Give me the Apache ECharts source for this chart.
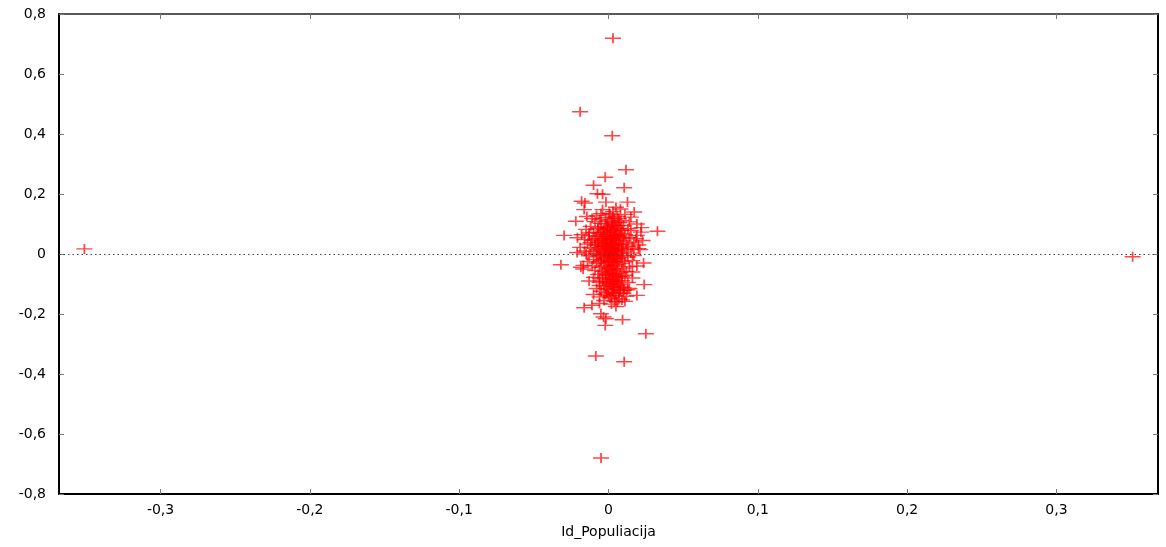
<!DOCTYPE html>
<html>
<head>
<meta charset="utf-8">
<script src="https://cdn.jsdelivr.net/npm/echarts@6/dist/echarts.min.js"></script>
<style>
  html, body { margin: 0; padding: 0; background: #fff; }
  #chart { width: 1166px; height: 547px; }
</style>
</head>
<body>
<div id="chart"></div>
<script>
// Axis ranges and tick positions
const xRange = [-0.368, 0.368];
const yRange = [-0.8, 0.8];
const xTicks = [-0.3, -0.2, -0.1, 0, 0.1, 0.2, 0.3];
const xName = 'Id_Populiacija';

// Isolated points away from the main cluster
const outerPoints = [
  [-0.351, 0.017], [0.351, -0.009],
  [0.003, 0.719], [-0.019, 0.474], [0.0025, 0.394],
  [0.025, -0.266], [-0.0085, -0.340], [0.0105, -0.359], [-0.005, -0.680]
];

// Fringe of the cluster
const fringePoints = [
  [0.0117, 0.281], [-0.0022, 0.256], [-0.010, 0.229], [0.0105, 0.221],
  [-0.0074, 0.201], [-0.004, 0.199], [-0.018, 0.176], [-0.0158, 0.170],
  [0.0127, 0.173], [-0.0017, 0.173], [-0.0163, 0.148], [0.0172, 0.140],
  [0.005, 0.156], [-0.0219, 0.109], [-0.0145, 0.125], [-0.0297, 0.062],
  [0.0328, 0.076], [-0.0208, 0.054], [0.015, 0.123], [0.0083, 0.112],
  [0.0217, 0.073], [0.0184, 0.051], [0.016, 0.023], [0.0228, 0.045],
  [-0.0051, 0.134], [0.0005, 0.136], [0.0027, 0.123],
  [0.022, 0.088], [0.019, 0.100], [0.014, 0.107], [0.021, 0.015],
  [-0.0319, -0.036], [-0.0185, -0.044], [-0.0168, -0.038], [0.0235, -0.030],
  [0.016, -0.060], [0.0239, -0.102], [0.0127, -0.119], [0.0105, -0.121],
  [0.019, -0.138], [-0.0163, -0.179], [-0.0111, -0.171], [-0.0051, -0.199],
  [-0.0017, -0.216], [-0.0033, -0.210], [0.0094, -0.219], [-0.0022, -0.238]
];

// Dense core of the cluster
const corePoints = [
  [-0.004, 0.148], [0.003, 0.142], [0.008, 0.150], [-0.008, 0.128], [0.001, 0.131],
  [0.006, 0.126], [-0.002, 0.121], [0.011, 0.132], [-0.011, 0.118], [0.004, 0.117],
  [-0.009, 0.108], [-0.005, 0.102], [0.000, 0.111], [0.003, 0.098], [0.007, 0.105],
  [0.010, 0.095], [-0.012, 0.092], [-0.007, 0.088], [-0.002, 0.093], [0.005, 0.087],
  [0.013, 0.084], [-0.015, 0.082], [0.002, 0.081], [0.009, 0.079], [-0.004, 0.077],
  [-0.010, 0.072], [-0.006, 0.068], [-0.001, 0.071], [0.003, 0.066], [0.006, 0.073],
  [0.011, 0.064], [-0.013, 0.061], [-0.008, 0.058], [-0.003, 0.060], [0.001, 0.055],
  [0.004, 0.059], [0.008, 0.052], [0.014, 0.056], [-0.016, 0.048], [-0.011, 0.046],
  [-0.005, 0.050], [0.000, 0.044], [0.002, 0.048], [0.006, 0.042], [0.010, 0.045],
  [0.017, 0.040], [-0.007, 0.040], [-0.002, 0.038],
  [-0.014, 0.033], [-0.009, 0.030], [-0.004, 0.034], [-0.001, 0.028], [0.002, 0.032],
  [0.005, 0.027], [0.009, 0.031], [0.013, 0.025], [-0.019, 0.022], [-0.012, 0.020],
  [-0.006, 0.022], [-0.002, 0.018], [0.001, 0.021], [0.004, 0.015], [0.007, 0.019],
  [0.012, 0.014], [0.020, 0.018], [-0.016, 0.010], [-0.010, 0.008], [-0.005, 0.011],
  [0.000, 0.006], [0.003, 0.009], [0.006, 0.004], [0.010, 0.007], [0.015, 0.003],
  [-0.008, 0.002], [-0.003, -0.001], [0.002, -0.003],
  [-0.013, -0.006], [-0.007, -0.009], [-0.001, -0.012], [0.004, -0.008], [0.008, -0.013],
  [0.013, -0.010], [-0.010, -0.018], [-0.005, -0.021], [0.000, -0.019], [0.003, -0.024],
  [0.007, -0.020], [0.011, -0.026], [-0.008, -0.030], [-0.003, -0.033], [0.001, -0.029],
  [0.005, -0.036], [0.009, -0.032], [-0.011, -0.040], [0.014, -0.042],
  [-0.006, -0.045], [-0.001, -0.048], [0.002, -0.043], [0.006, -0.051], [0.010, -0.047],
  [-0.009, -0.055], [-0.004, -0.058], [0.000, -0.062], [0.004, -0.056], [0.008, -0.063],
  [0.012, -0.058], [-0.007, -0.068], [-0.002, -0.072], [0.003, -0.069], [0.007, -0.076],
  [0.011, -0.071], [-0.010, -0.078],
  [-0.004, -0.083], [0.001, -0.086], [0.005, -0.081], [0.009, -0.089], [-0.006, -0.094],
  [-0.001, -0.097], [0.003, -0.092], [0.007, -0.101], [0.013, -0.095], [-0.003, -0.107],
  [0.002, -0.110], [0.006, -0.104], [0.010, -0.112], [-0.008, -0.115], [0.000, -0.118],
  [-0.005, -0.124], [0.003, -0.127], [0.008, -0.122], [-0.002, -0.134], [0.005, -0.138],
  [0.010, -0.131], [-0.006, -0.143], [0.001, -0.146], [0.007, -0.149], [0.012, -0.141],
  [-0.003, -0.155], [0.004, -0.158], [0.009, -0.153], [0.002, -0.167],
  [-0.003, 0.064], [0.001, 0.076], [0.005, 0.062], [-0.007, 0.084], [0.004, 0.104],
  [-0.001, 0.089], [0.008, 0.068], [-0.004, 0.026], [0.003, 0.037], [0.007, 0.033],
  [-0.008, 0.015], [0.000, 0.013], [0.005, 0.023], [0.009, 0.017], [-0.002, 0.003],
  [0.004, 0.000], [-0.006, -0.004], [0.001, -0.006], [0.006, -0.015], [-0.003, -0.014],
  [0.002, -0.037], [-0.005, -0.026], [0.004, -0.040], [0.000, -0.052], [-0.002, -0.064],
  [0.005, -0.066], [0.002, -0.078], [-0.004, -0.090], [0.004, -0.097], [0.001, -0.102],
  [0.006, -0.115], [-0.001, -0.129], [0.004, -0.133], [0.000, -0.139], [0.006, -0.160],
  [-0.002, 0.050], [0.002, 0.058], [-0.009, 0.052], [0.010, 0.055], [-0.012, 0.038],
  [0.012, 0.036], [-0.015, 0.000], [0.017, -0.005], [-0.014, -0.025], [0.016, -0.022],
  [-0.013, 0.070], [0.015, 0.078], [-0.018, 0.064], [0.019, 0.062], [0.020, 0.030],
  [-0.021, 0.005], [0.019, -0.040], [-0.017, -0.050], [0.016, -0.080], [-0.013, -0.090],
  [0.014, -0.115], [-0.010, -0.135], [0.011, -0.158], [-0.006, -0.165], [0.005, -0.175],
  [-0.001, 0.100], [0.002, 0.092], [-0.003, 0.082], [0.006, 0.094], [0.000, 0.084],
  [0.004, 0.078], [-0.005, 0.072], [0.001, 0.065], [0.007, 0.061], [-0.001, 0.058],
  [0.003, 0.052], [-0.004, 0.045], [0.005, 0.047], [-0.001, 0.040], [0.001, 0.035],
  [0.004, 0.030], [-0.002, 0.024], [0.002, 0.016], [0.006, 0.011], [-0.003, 0.008],
  [0.001, 0.001], [0.005, -0.004], [-0.001, -0.005], [0.003, -0.015], [0.000, -0.025],
  [0.006, -0.027], [-0.002, -0.040], [0.003, -0.050], [0.001, -0.057], [-0.001, -0.070],
  [0.005, -0.074], [0.003, -0.085], [0.000, -0.092], [0.006, -0.090], [0.002, -0.098],
  [0.004, -0.108], [-0.002, -0.115], [0.003, -0.120], [0.007, -0.130], [0.002, -0.140],
  [0.008, -0.110], [-0.006, -0.105], [0.009, -0.075], [-0.006, -0.080], [0.009, -0.005],
  [-0.007, 0.030], [0.008, 0.085], [-0.006, 0.115], [0.002, 0.108], [0.007, 0.118]
];

const allPoints = outerPoints.concat(fringePoints, corePoints);

// Gnuplot-style "+" marker built from two thin filled bars
const plusSymbol = 'path://M0,4.3H16V5.7H0Z M7.1,0H8.9V10H7.1Z';

const fmt = v => {
  if (Math.abs(v) < 1e-9) return '0';
  return (Math.round(v * 10) / 10).toFixed(1).replace('.', ',');
};

const labelFont = { fontFamily: 'DejaVu Sans', fontSize: 14, color: '#000' };
const tickStyle = { show: true, inside: true, length: 5, lineStyle: { color: '#777', width: 1 } };
const frameLine = { show: true, onZero: false, lineStyle: { color: '#000', width: 2 } };

const chart = echarts.init(document.getElementById('chart'), null, { renderer: 'canvas' });
chart.setOption({
  animation: false,
  backgroundColor: '#fff',
  grid: { left: 59, right: 8, top: 14, bottom: 53, containLabel: false },
  xAxis: [
    {
      type: 'value', position: 'bottom', min: xRange[0], max: xRange[1],
      axisLine: frameLine,
      axisTick: Object.assign({ customValues: xTicks }, tickStyle),
      axisLabel: Object.assign({ customValues: xTicks, margin: 9, formatter: fmt }, labelFont),
      splitLine: { show: false },
      name: xName, nameLocation: 'middle', nameGap: 31,
      nameTextStyle: labelFont
    },
    {
      type: 'value', position: 'top', min: xRange[0], max: xRange[1],
      axisLine: Object.assign({}, frameLine, { lineStyle: { color: '#222', width: 1.5 } }),
      axisTick: Object.assign({ customValues: xTicks }, tickStyle),
      axisLabel: { show: false },
      splitLine: { show: false }
    }
  ],
  yAxis: [
    {
      type: 'value', position: 'left', min: yRange[0], max: yRange[1], interval: 0.2,
      axisLine: frameLine,
      axisTick: tickStyle,
      axisLabel: Object.assign({ margin: 13, formatter: fmt }, labelFont),
      splitLine: { show: false }
    },
    {
      type: 'value', position: 'right', min: yRange[0], max: yRange[1], interval: 0.2,
      axisLine: frameLine,
      axisTick: tickStyle,
      axisLabel: { show: false },
      splitLine: { show: false }
    }
  ],
  series: [
    {
      type: 'scatter',
      xAxisIndex: 0, yAxisIndex: 0,
      data: allPoints,
      symbol: plusSymbol,
      symbolSize: [16, 10],
      itemStyle: { color: 'rgba(255,0,0,0.9)' },
      silent: true,
      markLine: {
        silent: true,
        symbol: ['none', 'none'],
        label: { show: false },
        lineStyle: { color: '#444', type: [1.5, 3], width: 1.2 },
        data: [{ yAxis: 0 }]
      }
    }
  ]
});
</script>
</body>
</html>
